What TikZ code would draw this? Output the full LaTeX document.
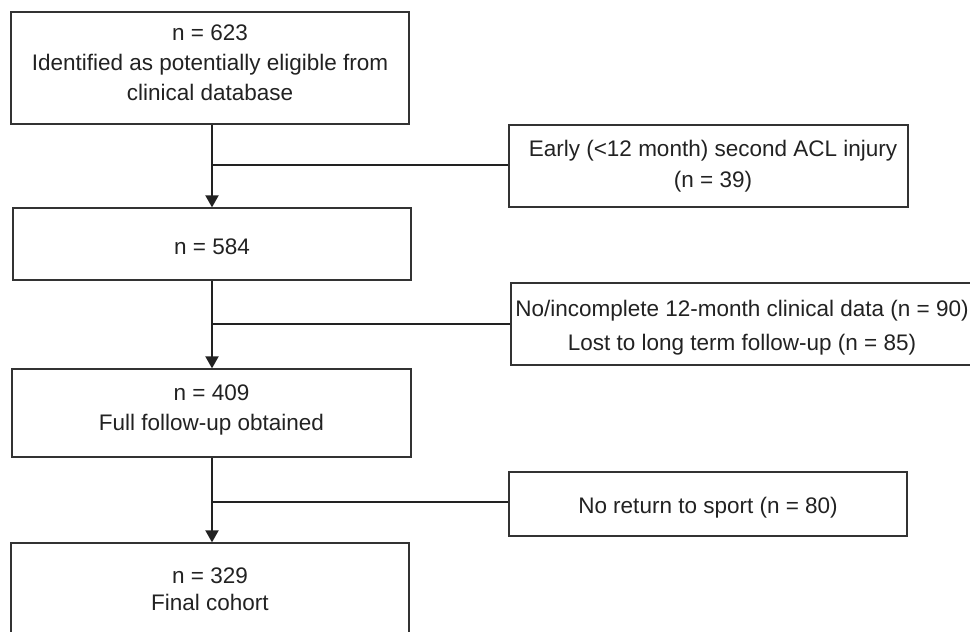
\documentclass[tikz,border=0pt]{standalone}
\usepackage{fontspec}
\setmainfont{Liberation Sans}
\usetikzlibrary{arrows.meta}
\definecolor{boxgray}{HTML}{333333}
\definecolor{linegray}{HTML}{222222}
\definecolor{textgray}{HTML}{222222}
\begin{document}
\begin{tikzpicture}[x=1pt,y=-1pt,
  box/.style={draw=boxgray, line width=1.3pt, rectangle, align=center, inner sep=0pt,
    text=textgray, font=\fontsize{22.5}{30}\selectfont},
  conn/.style={draw=linegray, line width=1.4pt},
  arr/.style={draw=linegray, line width=2pt, -{Triangle[length=12pt,width=13pt]}}]
\useasboundingbox (0,0) rectangle (970,632);
\fill[white] (0,0) rectangle (970,632);
\clip (0,0) rectangle (970,632);
\coordinate (sp) at (212,0);
% main column
\node[box, minimum width=398pt, minimum height=112pt, text height=64pt, text depth=0pt,
  font=\fontsize{22.5}{29.7}\selectfont] (b1) at (210,68)
  {n = 623\\Identified as potentially eligible from\\clinical database};
\node[box, minimum width=398pt, minimum height=72pt, text height=20pt, text depth=0pt] (b2) at (212,244) {n = 584};
\node[box, minimum width=399pt, minimum height=88pt, text height=34pt, text depth=0pt,
  font=\fontsize{22.5}{29.5}\selectfont] (b3) at (211.5,413)
  {n = 409\\Full follow-up obtained};
\node[box, minimum width=398pt, minimum height=97pt, text height=38.4pt, text depth=0pt,
  font=\fontsize{22.5}{27.4}\selectfont] (b4) at (210,591.5)
  {n = 329\\Final cohort};
% exclusion boxes
\node[box, minimum width=399pt, minimum height=82pt, text height=42.6pt, text depth=0pt,
  font=\fontsize{22.5}{31.3}\selectfont] (r1) at (708.5,166)
  {\hspace*{9pt}Early (<12 month) second ACL injury\\\hspace*{9pt}(n = 39)};
\node[box, minimum width=462pt, minimum height=82pt, text height=53.4pt, text depth=0pt,
  font=\fontsize{22.5}{34.7}\selectfont] (r2) at (742,324)
  {No/incomplete 12-month clinical data (n = 90)\\Lost to long term follow-up (n = 85)};
\node[box, minimum width=398pt, minimum height=64pt, text height=20pt, text depth=1.4pt] (r3) at (708,504)
  {No return to sport (n = 80)};
% connectors
\draw[conn] ([yshift=1pt]r1.west) -- ([yshift=1pt]r1.west -| sp);
\draw[conn] (r2.west) -- (r2.west -| sp);
\draw[conn] ([yshift=2pt]r3.west) -- ([yshift=2pt]r3.west -| sp);
\draw[arr] (b1.south -| sp) -- (b2.north -| sp);
\draw[arr] (b2.south -| sp) -- (b3.north -| sp);
\draw[arr] (b3.south -| sp) -- (b4.north -| sp);
\end{tikzpicture}
\end{document}
